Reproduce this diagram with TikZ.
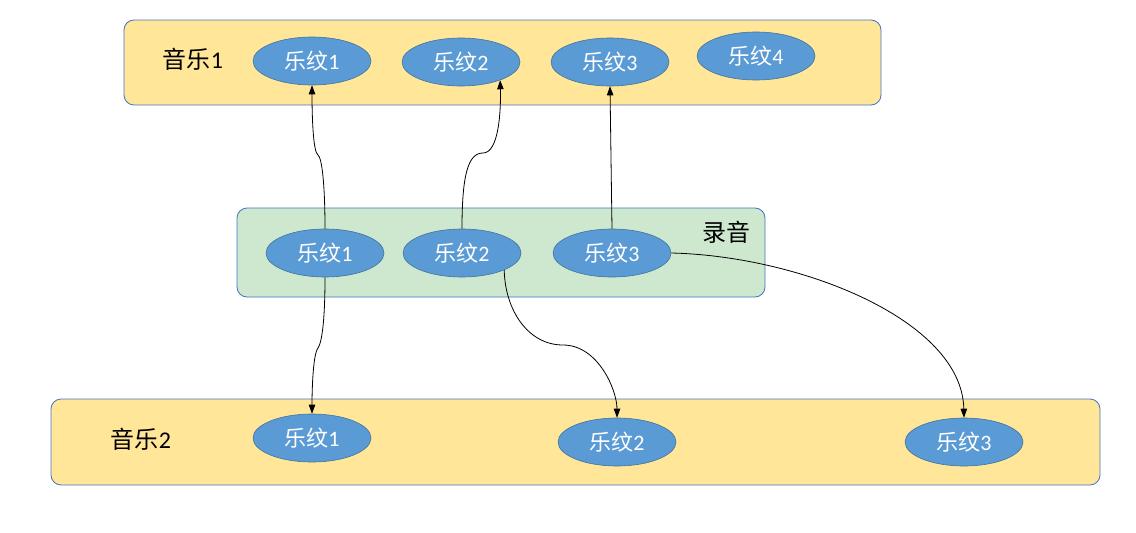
\documentclass[tikz,border=0pt]{standalone}
\usepackage{fontspec}
\setmainfont{Carlito}
\newfontfamily\cjk{Noto Sans CJK SC}
\usetikzlibrary{shapes.geometric,arrows.meta}
\definecolor{boxyellow}{HTML}{FFE699}
\definecolor{boxgreen}{HTML}{CDE8CE}
\definecolor{boxline}{HTML}{4472C4}
\definecolor{ellfill}{HTML}{5B9BD5}
\definecolor{ellline}{HTML}{41719C}
\tikzset{
  group/.style={draw=boxline, line width=0.8pt, rounded corners=10pt},
  wen/.style={ellipse, draw=ellline, fill=ellfill, line width=0.6pt, minimum width=118pt, minimum height=48pt, inner sep=0pt, text=white, font=\fontsize{22}{22}\selectfont},
  lbl/.style={font=\fontsize{24}{24}\selectfont, text=black},
  link/.style={draw=black, line width=0.8pt, -{Triangle[length=9pt,width=6.5pt]}}
}
\newcommand{\wtxt}[1]{{\cjk 乐纹}#1}
\begin{document}
\begin{tikzpicture}[x=1pt,y=-1pt]
\useasboundingbox (0,0) rectangle (1136,533);
% group boxes
\draw[group, fill=boxyellow] (124,20) rectangle (881,105);
\draw[group, fill=boxgreen] (237,208) rectangle (765,297);
\draw[group, fill=boxyellow] (51,399) rectangle (1100,485);
% labels
\node[lbl] (l1) at (193,59) {{\cjk 音乐}1};
\node[lbl] (l2) at (726,232) {\cjk 录音};
\node[lbl] (l3) at (141,439) {{\cjk 音乐}2};
% top ellipses
\node[wen] (t1) at (312,61) {\wtxt{1}};
\node[wen] (t2) at (461,62) {\wtxt{2}};
\node[wen] (t3) at (610,62) {\wtxt{3}};
\node[wen] (t4) at (756,56) {\wtxt{4}};
% recording ellipses
\node[wen] (r1) at (325,253) {\wtxt{1}};
\node[wen] (r2) at (462,253) {\wtxt{2}};
\node[wen] (r3) at (612,253) {\wtxt{3}};
% bottom ellipses
\node[wen] (b1) at (312,438) {\wtxt{1}};
\node[wen] (b2) at (617,442) {\wtxt{2}};
\node[wen] (b3) at (964,442) {\wtxt{3}};
% connectors
\coordinate (m1) at (318,155);
\coordinate (m2) at (483,153);
\coordinate (m4) at (318,348);
\coordinate (m5) at (563,345);
\draw[link] (r1.north) .. controls (325,185) and (322,158) .. (m1)
  .. controls (313,152) and (312,115) .. (t1.south);
\draw[link] (r2.north) .. controls (462,175) and (468,153) .. (m2)
  .. controls (499,153) and (501,110) .. (t2.-25);
\draw[link] (r3.north) -- (t3.south);
\draw[link] (r1.south) .. controls (325,320) and (322,342) .. (m4)
  .. controls (313,354) and (312,390) .. (b1.north);
\draw[link] (r2.-22) .. controls (505,310) and (528,345) .. (m5)
  .. controls (598,345) and (617,390) .. (b2.north);
\draw[link] (r3.east) .. controls (800,256) and (962,320) .. (b3.north);
\end{tikzpicture}
\end{document}
